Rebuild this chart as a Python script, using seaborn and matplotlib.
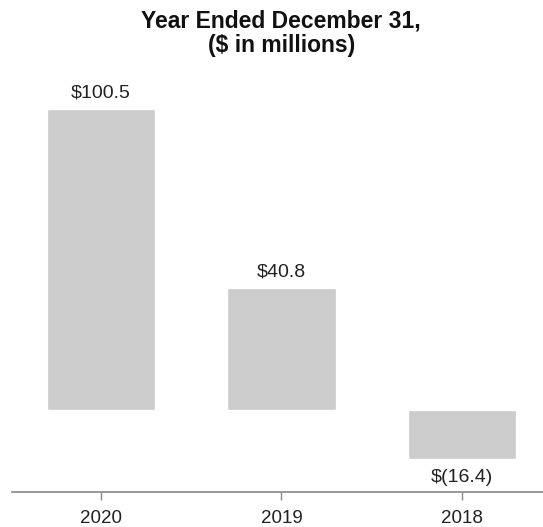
import matplotlib
matplotlib.use("Agg")
import matplotlib.pyplot as plt
import seaborn as sns
import pandas as pd

years = ["2020", "2019", "2018"]
values = [100.5, 40.8, -16.4]
labels = ["$100.5", "$40.8", "$(16.4)"]

sns.set_theme(style="white")
plt.rcParams["font.family"] = ["Liberation Sans", "DejaVu Sans"]

df = pd.DataFrame({"year": years, "value": values})

fig = plt.figure(figsize=(5.43, 5.27), dpi=100)
ax = fig.add_axes([12 / 543, 35 / 527, 531 / 543, 412 / 527])

sns.barplot(data=df, x="year", y="value", color="#cccccc", width=0.6,
            saturation=1, ax=ax, order=years)

for i, (v, lab) in enumerate(zip(values, labels)):
    if v >= 0:
        ax.annotate(lab, (i, v), xytext=(0, 5), textcoords="offset points",
                    ha="center", va="bottom", fontsize=14, color="#222222")
    else:
        ax.annotate(lab, (i, v), xytext=(0, -7), textcoords="offset points",
                    ha="center", va="top", fontsize=14, color="#222222")

ax.set_xlim(-0.494, 2.45)
ax.set_ylim(-27.3, 110)
ax.set_xlabel("")
ax.set_ylabel("")
ax.set_yticks([])
for s in ["top", "right", "left"]:
    ax.spines[s].set_visible(False)
ax.spines["bottom"].set_color("#888888")
ax.spines["bottom"].set_linewidth(1.2)
ax.tick_params(axis="x", bottom=True, length=6, width=1, color="#888888",
               labelsize=13.5, labelcolor="#222222", pad=7)

fig.suptitle("Year Ended December 31,\n($ in millions)", x=0.518, y=0.982,
             fontsize=16.5, fontweight="bold", color="#111111", linespacing=1.1)

fig.savefig("out.png", dpi=100)
